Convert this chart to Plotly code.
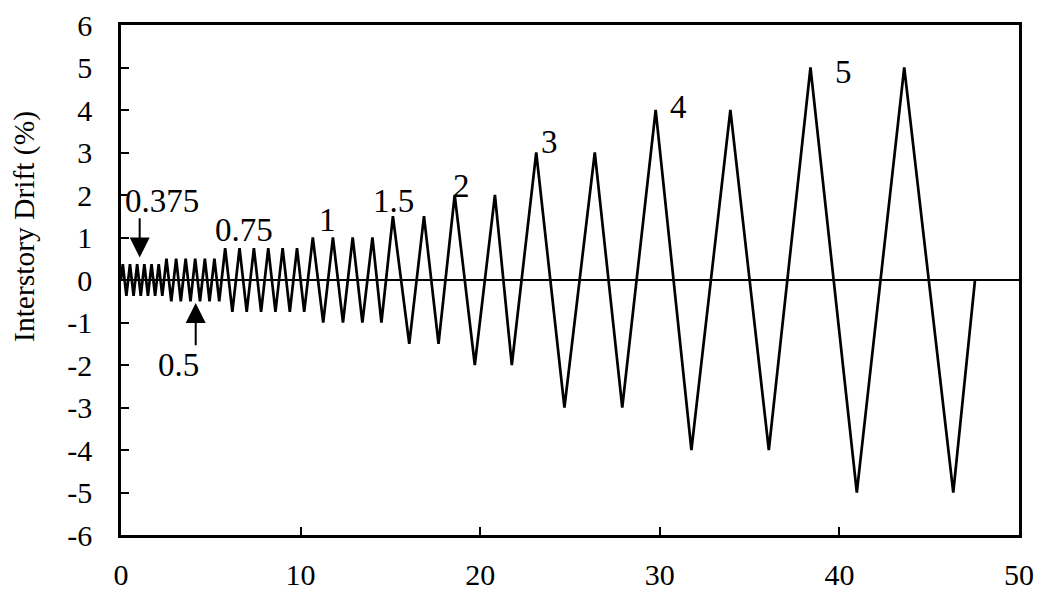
import plotly.graph_objects as go

# Loading protocol vertices
cycle_x = [0.0,
           0.1, 0.3, 0.5, 0.7, 0.9, 1.1, 1.3, 1.5, 1.7, 1.9, 2.1, 2.3,
           2.53, 2.8, 3.07, 3.33, 3.6, 3.87, 4.13, 4.4, 4.67, 4.93, 5.2, 5.47,
           5.8, 6.2, 6.6, 7.0, 7.4, 7.8, 8.2, 8.6, 9.0, 9.4, 9.8, 10.2,
           10.68, 11.26, 11.8, 12.36, 12.9, 13.44, 14.0, 14.5,
           15.14, 16.05, 16.87, 17.68,
           18.58, 19.7, 20.82, 21.76,
           23.12, 24.69, 26.38, 27.91,
           29.77, 31.76, 33.93, 36.07,
           38.39, 40.97, 43.61, 46.34,
           47.55]
drift = [0.0,
         0.375, -0.375, 0.375, -0.375, 0.375, -0.375, 0.375, -0.375, 0.375, -0.375, 0.375, -0.375,
         0.5, -0.5, 0.5, -0.5, 0.5, -0.5, 0.5, -0.5, 0.5, -0.5, 0.5, -0.5,
         0.75, -0.75, 0.75, -0.75, 0.75, -0.75, 0.75, -0.75, 0.75, -0.75, 0.75, -0.75,
         1, -1, 1, -1, 1, -1, 1, -1,
         1.5, -1.5, 1.5, -1.5,
         2, -2, 2, -2,
         3, -3, 3, -3,
         4, -4, 4, -4,
         5, -5, 5, -5,
         0.0]

x_ticks = [0, 10, 20, 30, 40, 50]
y_ticks = [-6, -5, -4, -3, -2, -1, 0, 1, 2, 3, 4, 5, 6]
y_tick_text = [str(v) for v in y_ticks]

level_labels = ["0.375", "0.5", "0.75", "1", "1.5", "2", "3", "4", "5"]
label_x = [2.31, 3.18, 6.86, 11.48, 15.16, 18.95, 23.88, 31.02, 40.24]
label_y = [1.87, -2.0, 1.18, 1.41, 1.85, 2.22, 3.24, 4.06, 4.9]

FONT = "Liberation Serif, Times New Roman, serif"

fig = go.Figure()
fig.add_trace(go.Scatter(x=cycle_x, y=drift, mode="lines",
                         line=dict(color="black", width=2.7), showlegend=False,
                         hoverinfo="skip"))

annotations = []
for t, xv, yv in zip(level_labels, label_x, label_y):
    annotations.append(dict(x=xv, y=yv, xref="x", yref="y", text=t, showarrow=False,
                            font=dict(family=FONT, size=33, color="black"),
                            xanchor="center", yanchor="middle"))
# arrows for 0.375 and 0.5
annotations.append(dict(x=1.04, y=0.53, ax=1.04, ay=1.49, xref="x", yref="y",
                        axref="x", ayref="y", text="", showarrow=True,
                        arrowhead=2, arrowsize=2, arrowwidth=2, arrowcolor="black"))
annotations.append(dict(x=4.16, y=-0.54, ax=4.16, ay=-1.57, xref="x", yref="y",
                        axref="x", ayref="y", text="", showarrow=True,
                        arrowhead=2, arrowsize=2, arrowwidth=2, arrowcolor="black"))
# y-axis title
annotations.append(dict(x=-0.1075, y=0.605, xref="paper", yref="paper",
                        text="Interstory Drift (%)", textangle=-90, showarrow=False,
                        font=dict(family=FONT, size=29.5, color="black"),
                        xanchor="center", yanchor="middle"))

# the page body adds an 8px offset, so the figure is sized to the remaining area
fig.update_layout(
    width=1049, height=584,
    margin=dict(l=113, r=38, t=17, b=57),
    paper_bgcolor="white", plot_bgcolor="white",
    font=dict(family=FONT, size=30, color="black"),
    annotations=annotations,
)
fig.update_xaxes(range=[0, 50], tickvals=x_ticks, ticks="inside", ticklen=8, tickwidth=2,
                 tickcolor="black", showline=True, linecolor="black", linewidth=2.5,
                 mirror=True, showgrid=False, zeroline=False, automargin=False,
                 tickfont=dict(family=FONT, size=30, color="black"), ticklabelstandoff=11)
fig.update_yaxes(range=[-6, 6], tickvals=y_ticks, ticktext=y_tick_text, ticks="inside",
                 ticklen=8, tickwidth=2, tickcolor="black", showline=True, linecolor="black",
                 linewidth=2.5, mirror=True, showgrid=False, zeroline=True,
                 zerolinecolor="black", zerolinewidth=2, automargin=False,
                 tickfont=dict(family=FONT, size=30, color="black"), ticklabelstandoff=20)

fig.write_html("out.html")
